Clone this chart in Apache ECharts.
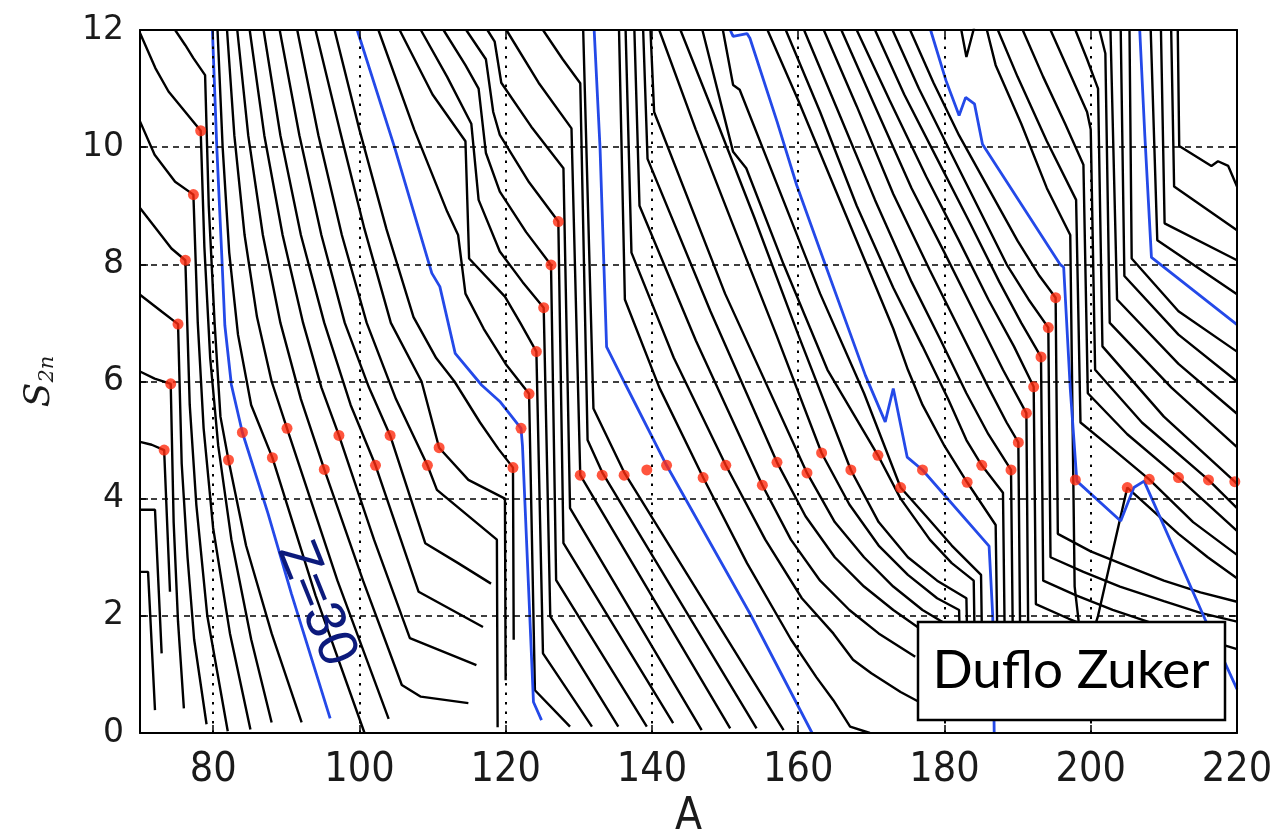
<!DOCTYPE html>
<html><head><meta charset="utf-8">
<script src="https://cdn.jsdelivr.net/npm/echarts@6/dist/echarts.min.js"></script>
<style>html,body{margin:0;padding:0;background:#fff}#c{width:1273px;height:830px}</style>
</head><body><div id="c"></div>
<script>
const X_TICKS = [80,100,120,140,160,180,200,220];
const Y_TICKS = [0,2,4,6,8,10,12];
const X_GRID = [80,100,120,140,160,180,200];
const Y_GRID = [2,4,6,8,10];

const Z21 = [[70,2.75],[71.1,2.75],[72.05,0.39]];
const Z22 = [[70,3.81],[72.05,3.81],[72.96,1.36]];
const Z23 = [[70,4.97],[71.6,4.92],[73.3,4.83],[74.1,2.41]];
const Z24 = [[70,6.17],[72,6.05],[74.2,5.96],[74.6,3.6],[75.2,1.9],[76.0,0.42]];
const Z25 = [[70,7.48],[73,7.19],[75.2,6.98],[75.7,4.6],[76.5,3.0],[77.4,1.6],[79.1,0.15]];
const Z26 = [[70,8.96],[72.5,8.56],[74.3,8.27],[76.2,8.07],[76.8,5.6],[77.7,3.9],[79.2,2.0],[82.0,0.03]];
const Z27 = [[70,10.44],[72,9.87],[74.8,9.41],[77.3,9.19],[77.9,7.0],[78.7,5.2],[80.0,3.5],[82.3,1.7],[85.1,0.06]];
const Z28 = [[70,11.95],[72.1,11.35],[73.9,10.95],[76.2,10.6],[78.3,10.28],[78.8,8.3],[79.6,6.4],[80.7,4.9],[82.5,3.3],[85.2,1.6],[88.0,0.18]];
const Z29 = [[74.8,12],[76.2,11.74],[77.3,11.52],[78.9,11.23],[79.4,9.0],[80.2,7.0],[81.0,5.4],[82.1,4.66],[84.5,3.2],[88.0,1.7],[92.1,0.18]];
const Z30 = [[79.9,12],[80.5,10],[81.2,8.1],[81.6,6.96],[82.5,5.94],[84.0,5.13],[87.5,3.75],[90.7,2.38],[96.0,0.25]];
const Z31 = [[80.6,12],[81.3,10],[82.2,8.2],[83.4,6.8],[85.2,5.6],[88.1,4.70],[94.0,2.35],[100.7,0.0]];
const Z32 = [[81.9,12],[82.9,10.2],[84.3,8.5],[86.0,7.1],[88.0,6.0],[90.1,5.2],[97.0,2.6],[104.0,0.24]];
const Z33 = [[83.3,12],[84.8,10.2],[86.8,8.5],[89.2,7.0],[92.0,5.7],[95.2,4.50],[100.5,2.6],[105.8,0.82],[108.4,0.62],[114.9,0.51]];
const Z34 = [[85.0,12],[87.0,10.2],[89.5,8.5],[92.3,7.0],[94.8,5.9],[97.2,5.08],[102.0,3.3],[106.9,1.62],[116.0,1.16]];
const Z35 = [[86.9,12],[89.2,10.2],[92.0,8.5],[95.2,7.0],[98.8,5.6],[102.2,4.57],[108.1,2.41],[116.9,1.81]];
const Z36 = [[89.1,12],[91.8,10.2],[94.8,8.5],[98.0,7.0],[101.3,5.9],[104.2,5.08],[109.0,3.24],[113.5,2.9],[118.0,2.55]];
const Z37 = [[91.5,12],[94.4,10.2],[97.6,8.5],[101.0,7.0],[105.0,5.7],[109.3,4.57],[110.6,4.15],[118.8,3.3],[118.9,0.1]];
const Z38 = [[94.0,12],[97.3,10.3],[100.7,8.6],[104.3,7.0],[108.5,6.0],[110.9,4.87],[114.9,4.32],[119.9,4.0],[120.0,0.9]];
const Z39 = [[96.6,12],[100.0,10.3],[103.7,8.6],[107.4,7.1],[110.5,6.4],[113.0,6.0],[116.5,5.3],[119.0,4.85],[121.0,4.53],[121.1,1.59]];
const Z40 = [[99.7,12],[104.8,10],[109.9,7.85],[111.0,7.62],[113.1,6.48],[116.7,5.94],[119.2,5.66],[122.1,5.2],[122.3,4.9],[123.8,0.53],[124.9,0.22]];
const Z41 = [[102.6,12],[107.5,10.3],[112.0,8.9],[113.5,8.5],[114.5,7.5],[117.0,6.9],[120.0,6.3],[123.2,5.79],[124.0,0.73],[128.8,0.11]];
const Z42 = [[105.5,12],[110.0,10.9],[114.5,10.1],[115.0,8.1],[119.9,7.45],[122.0,7.0],[124.2,6.51],[125.1,1.36],[131.8,0.11]];
const Z43 = [[108.4,12],[112.0,11.2],[115.3,10.4],[116.3,9.1],[119.2,8.22],[122.3,7.7],[125.2,7.26],[126.1,1.99],[135.4,0.11]];
const Z44 = [[111.5,12],[114.5,11.4],[116.3,11.0],[117.3,9.9],[119.2,9.24],[122.8,8.55],[126.2,7.99],[126.9,2.61],[139.3,0.11]];
const Z45 = [[114.6,12],[117.3,11.5],[118.3,10.6],[119.2,10.21],[123.2,9.4],[127.2,8.73],[127.9,3.24],[142.9,0.17]];
const Z46 = [[117.5,12],[118.5,11.8],[119.4,11.1],[123.5,10.35],[127.9,9.64],[128.8,3.84],[146.8,0.05]];
const Z47 = [[120.1,12],[124.5,11.1],[129.0,10.32],[130.2,4.40],[150.7,0.08]];
const Z48 = [[125.1,12],[127.8,11.5],[130.2,11.09],[131.2,5.0],[133.2,4.45],[154.3,0.08]];
const Z49 = [[130.6,12],[132.0,5.54],[136.2,4.45],[158.0,0.05]];
const Z50 = [[132.1,12],[132.9,10.0],[133.8,6.59],[136.3,5.97],[142.0,4.57],[153.4,2.04],[161.9,0.0]];
const Z51 = [[135.5,12],[136.3,7.4],[141.0,5.9],[147.0,4.36],[153.0,2.9],[159.0,1.6],[162.5,0.95],[164.8,0.56],[167.1,0.11],[169.8,0.0]];
const Z52 = [[136.4,12],[137.2,8.2],[143.0,6.4],[150.1,4.57],[155.5,3.3],[160.5,2.3],[164.8,1.70],[167.5,1.25],[170.0,1.02],[174.0,0.7],[177.0,0.5]];
const Z53 = [[137.6,12],[138.3,9.0],[146.0,6.7],[155.1,4.23],[159.0,3.3],[163.0,2.6],[167.0,2.1],[171.0,1.7],[176.0,1.3]];
const Z54 = [[138.8,12],[139.4,9.8],[148.0,7.2],[157.1,4.62],[161.0,3.7],[165.0,3.0],[169.0,2.5],[173.0,2.1],[177.0,1.75]];
const Z55 = [[139.8,12],[140.3,10.6],[150.0,7.5],[161.2,4.44],[165.0,3.6],[169.0,3.0],[173.0,2.5],[177.0,2.1],[181.0,1.8]];
const Z56 = [[141.0,12],[146.0,10.3],[151.0,8.7],[157.0,6.8],[163.2,4.78],[167.0,3.9],[171.0,3.2],[175.0,2.7],[179.0,2.3],[182.0,2.1],[182.2,1.0]];
const Z57 = [[143.9,12],[149.0,10.4],[154.0,8.8],[160.0,6.8],[167.2,4.49],[171.0,3.6],[175.0,3.0],[179.0,2.6],[183.0,2.3],[183.2,1.0]];
const Z58 = [[146.9,12],[151.1,9.92],[152.9,9.64],[158.0,8.0],[164.0,6.2],[170.9,4.74],[174.0,4.0],[178.0,3.3],[181.0,2.9],[184.0,2.6],[184.2,1.0]];
const Z59 = [[149.7,12],[151.1,11.06],[152.0,10.98],[157.0,9.4],[163.0,7.5],[169.0,5.8],[174.0,4.19],[177.5,3.7],[181.0,3.2],[185.0,2.7],[185.2,1.0]];
const Z60 = [[150.7,12],[151.1,11.89],[153.0,11.94],[153.4,11.86],[157.1,10.44],[159.8,9.35],[163.4,8.1],[169.2,6.1],[171.9,5.31],[173.0,5.88],[174.9,4.71],[177.0,4.49],[186.1,3.19],[186.6,2.0],[186.8,0]];
const Z61 = [[155.8,12],[160,10.8],[165,9.3],[170,7.8],[173.0,6.9],[175.0,6.2],[177,5.6],[180,4.9],[183.1,4.28],[187.0,3.55],[187.3,1.0]];
const Z62 = [[158.3,12],[163,10.6],[168,9.0],[173,7.6],[177,6.6],[180.5,5.7],[183,5.0],[185.1,4.57],[188.0,4.1],[188.3,1.0]];
const Z63 = [[160.8,12],[165.5,10.6],[170.5,9.1],[175.5,7.7],[179.5,6.7],[183,5.8],[186,5.1],[189.1,4.49],[189.4,1.0]];
const Z64 = [[163.5,12],[168,10.7],[173,9.2],[178,7.9],[182,6.9],[186,5.9],[188.5,5.3],[190.1,4.96],[190.4,1.0]];
const Z65 = [[165.9,12],[170.5,10.7],[175.5,9.3],[180,8.2],[184,7.2],[188,6.2],[191.2,5.46],[191.5,1.0]];
const Z66 = [[168.0,12],[172.5,10.8],[177.5,9.5],[182,8.4],[186,7.4],[189.5,6.6],[192.2,5.91],[192.5,2.2],[197,1.95],[202,1.7],[210,1.2]];
const Z67 = [[170.5,12],[174.5,10.9],[179,9.8],[183.5,8.7],[187.5,7.7],[190.5,7.0],[193.2,6.42],[193.5,2.6],[198,2.35],[203,2.1],[209,1.85],[220,1.43]];
const Z68 = [[172.9,12],[176.5,11.0],[180.5,10.0],[184.5,9.0],[188.5,8.0],[191.5,7.4],[194.2,6.92],[194.5,3.0],[199,2.75],[204,2.5],[210,2.25],[215,2.05],[220,1.9]];
const Z69 = [[175.3,12],[178.5,11.1],[182,10.2],[186,9.3],[190,8.4],[193,7.8],[195.2,7.43],[195.5,3.4],[200,3.1],[205,2.85],[210,2.6],[215,2.4],[220,2.24]];
const Z70 = [[178.1,12],[180.2,11.14],[182.0,10.54],[182.9,10.85],[184.1,10.74],[185.2,10.05],[195.8,8.0],[196.3,7.95],[197.2,5.88],[198.1,4.30],[204.1,3.62],[205.9,4.19],[207.3,4.30],[215.6,1.95],[220,0.75]];
const Z71A = [[182.3,12],[183.0,11.54],[184.6,12.3]];
const Z71 = [[185.8,12],[187,11.4],[190.5,10.4],[194,9.3],[197.2,8.5],[197.8,2.5],[199,1.2],[201,2.0],[203,3.1],[205.0,4.19],[208,3.85],[212,3.4],[216,3.0],[220,2.64]];
const Z72 = [[187.3,12],[190,11.2],[194,10.1],[198.0,9.1],[198.6,5.3],[203,4.85],[208.0,4.33],[214,3.6],[220,3.04]];
const Z73 = [[190.7,12],[193.5,11.2],[196.5,10.4],[199.0,9.7],[199.6,5.8],[205,5.1],[212.0,4.36],[220,3.45]];
const Z74 = [[194.5,12],[197,11.3],[199.5,10.6],[200.0,10.3],[200.6,6.2],[207,5.3],[216.1,4.32],[220,3.84]];
const Z75 = [[197.9,12],[199.5,11.5],[201.0,11.0],[201.6,6.6],[210,5.4],[219.7,4.29],[220,4.25]];
const Z76 = [[201.2,12],[202.0,11.6],[202.6,7.0],[211,5.9],[220,4.88]];
const Z77 = [[202.7,12],[203.6,7.4],[212,6.3],[220,5.45]];
const Z78 = [[204.1,12],[204.6,7.8],[212,6.8],[220,6.0]];
const Z79 = [[205.3,12],[205.6,8.1],[212,7.2],[220,6.51]];
const Z80 = [[206.7,12],[207.4,10.19],[208.3,8.12],[220,6.97]];
const Z81 = [[208.2,12],[209.1,8.41],[220,7.49]];
const Z82 = [[209.6,12],[210.1,8.70],[220,8.07]];
const Z83 = [[211.0,12],[211.4,9.33],[220,8.58]];
const Z84 = [[211.9,12],[212.1,10.02],[216.5,9.68],[217.4,9.76],[218.8,9.68],[220,9.33]];

const DOTS = [
 [73.3,4.83],[74.2,5.96],[75.2,6.98],[76.2,8.07],[77.3,9.19],[78.3,10.28],
 [82.1,4.66],[84.0,5.13],[88.1,4.70],[90.1,5.2],[95.2,4.50],[97.2,5.08],[102.2,4.57],[104.2,5.08],[109.3,4.57],[110.9,4.87],
 [121.0,4.53],[122.1,5.2],[123.2,5.79],[124.2,6.51],[125.2,7.26],[126.2,7.99],[127.2,8.73],
 [130.2,4.40],[133.2,4.40],[136.2,4.40],[139.3,4.49],[142.0,4.57],[147.0,4.36],[150.1,4.57],[155.1,4.23],[157.1,4.62],
 [161.2,4.44],[163.2,4.78],[167.2,4.49],[170.9,4.74],[174.0,4.19],[177.0,4.49],[183.1,4.28],[185.1,4.57],
 [189.1,4.49],[190.1,4.96],[191.2,5.46],[192.2,5.91],[193.2,6.42],[194.2,6.92],[195.2,7.43],
 [197.9,4.32],[205.0,4.19],[208.0,4.33],[212.0,4.36],[216.1,4.32],[219.7,4.29]
];

const BLACK = [Z21,Z22,Z23,Z24,Z25,Z26,Z27,Z28,Z29,Z31,Z32,Z33,Z34,Z35,Z36,Z37,Z38,Z39,
  Z41,Z42,Z43,Z44,Z45,Z46,Z47,Z48,Z49,Z51,Z52,Z53,Z54,Z55,Z56,Z57,Z58,Z59,
  Z61,Z62,Z63,Z64,Z65,Z66,Z67,Z68,Z69,Z71A,Z71,Z72,Z73,Z74,Z75,Z76,Z77,Z78,Z79,Z81,Z82,Z83,Z84];
const BLUE = [Z30,Z40,Z50,Z60,Z70,Z80];

const chart = echarts.init(document.getElementById('c'), null, {renderer:'canvas'});
const axisCommon = {
  type:'value', z:10,
  axisLine:{show:true,onZero:false,lineStyle:{color:'#000',width:2}},
  splitLine:{show:false}
};
const series = [];
series.push({
  type:'line', data:[], z:1, silent:true,
  markLine:{silent:true, symbol:['none','none'], label:{show:false}, animation:false,
    data: X_GRID.map(v=>({xAxis:v, lineStyle:{color:'#000',width:2,type:[2.5,7]}}))
      .concat(Y_GRID.map(v=>({yAxis:v, lineStyle:{color:'#000',width:1.6,type:[6,5]}})))}
});
BLACK.forEach(d=>series.push({type:'line',data:d,symbol:'none',showSymbol:false,silent:true,clip:true,z:3,
  lineStyle:{color:'#000',width:2.4}}));
BLUE.forEach(d=>series.push({type:'line',data:d,symbol:'none',showSymbol:false,silent:true,clip:true,z:4,
  lineStyle:{color:'#2449e8',width:2.8}}));
series.push({type:'scatter',data:DOTS,symbol:'circle',symbolSize:11,z:5,silent:true,clip:true,
  itemStyle:{color:'#ff2b0e'}});

chart.setOption({
  animation:false,
  backgroundColor:'#fff',
  grid:{left:140,right:36,top:30,bottom:97,containLabel:false,outerBoundsMode:'none'},
  xAxis:[
    Object.assign({}, axisCommon, {min:70,max:220,position:'bottom',
      axisTick:{show:true,inside:true,length:8,customValues:X_TICKS,lineStyle:{color:'#000',width:1.5}},
      axisLabel:{customValues:X_TICKS,fontSize:41,fontFamily:'"Liberation Sans Narrow","DejaVu Sans Condensed",sans-serif',color:'#1a1a1a',margin:17},
      name:'A',nameLocation:'middle',nameGap:62,
      nameTextStyle:{fontSize:44,fontFamily:'"Liberation Sans Narrow","DejaVu Sans Condensed",sans-serif',color:'#1a1a1a'}}),
    Object.assign({}, axisCommon, {min:70,max:220,position:'top',
      axisTick:{show:true,inside:true,length:8,customValues:X_TICKS,lineStyle:{color:'#000',width:1.5}},
      axisLabel:{show:false}})
  ],
  yAxis:[
    Object.assign({}, axisCommon, {min:0,max:12,interval:2,position:'left',
      axisTick:{show:true,inside:true,length:8,lineStyle:{color:'#000',width:1.5}},
      axisLabel:{fontSize:33,fontFamily:'"DejaVu Sans",sans-serif',color:'#1a1a1a',margin:16},
      name:'{s|S}{sub|2n}',nameLocation:'middle',nameGap:82,nameRotate:90,
      nameTextStyle:{rich:{
        s:{fontSize:36,fontStyle:'italic',fontFamily:'"DejaVu Serif",serif',color:'#1a1a1a'},
        sub:{fontSize:21,fontStyle:'italic',fontFamily:'"DejaVu Serif",serif',color:'#1a1a1a',padding:[16,0,0,0]}}}}),
    Object.assign({}, axisCommon, {min:0,max:12,interval:2,position:'right',
      axisTick:{show:true,inside:true,length:8,lineStyle:{color:'#000',width:1.5}},
      axisLabel:{show:false}})
  ],
  series: series,
  graphic:[
    {type:'text', x:316, y:604, rotation:-68*Math.PI/180, z:50,
      style:{text:'Z=30', fontSize:56, fontFamily:'"Liberation Sans",sans-serif', fill:'#0c1a7c', align:'center', verticalAlign:'middle'}},
    {type:'rect', shape:{x:918,y:622,width:307,height:98}, z:100,
      style:{fill:'#fff', stroke:'#000', lineWidth:2.5}},
    {type:'text', x:1071, y:671, z:101,
      style:{text:'Duflo Zuker', fontSize:53, fontFamily:'Lato,"Noto Sans",sans-serif', fill:'#000', align:'center', verticalAlign:'middle'}}
  ]
});
</script></body></html>
